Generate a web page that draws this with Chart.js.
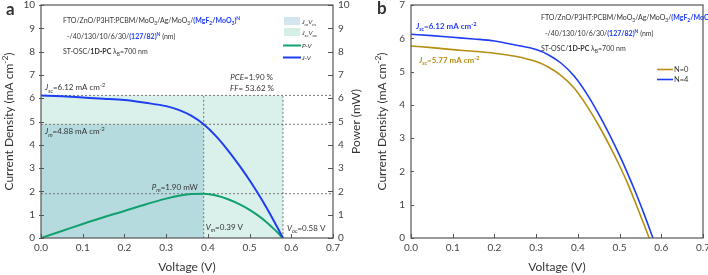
<!DOCTYPE html>
<html lang="en">
<head>
<meta charset="UTF-8" />
<title>J-V and P-V curves</title>
<script src="https://cdn.jsdelivr.net/npm/chart.js"></script>
<style>
  body { margin: 0; background: #fff; }
  #wrap { position: relative; width: 708px; height: 275px; }
  canvas { position: absolute; top: 0; }
</style>
</head>
<body>
<div id="wrap">
  <canvas id="chartA" width="370" height="275" style="left:0"></canvas>
  <canvas id="chartB" width="338" height="275" style="left:370px"></canvas>
</div>
<script>
// --- data ---
const voltage = [0, 0.05, 0.1, 0.15, 0.2, 0.25, 0.3, 0.33, 0.36, 0.39, 0.42, 0.45, 0.48, 0.5, 0.52, 0.54, 0.56, 0.58];
const currentN4 = [6.12, 6.08, 6.03, 5.98, 5.92, 5.80, 5.66, 5.50, 5.25, 4.88, 4.36, 3.72, 3.00, 2.48, 1.92, 1.32, 0.68, 0];
const powerN4 = [0, 0.30, 0.60, 0.89, 1.16, 1.44, 1.69, 1.81, 1.89, 1.90, 1.82, 1.65, 1.41, 1.21, 0.97, 0.69, 0.36, 0];
const voltageN0 = [0, 0.05, 0.1, 0.15, 0.2, 0.25, 0.3, 0.33, 0.36, 0.39, 0.42, 0.45, 0.48, 0.5, 0.52, 0.54, 0.56, 0.571];
const currentN0 = [5.77, 5.72, 5.66, 5.61, 5.55, 5.46, 5.30, 5.13, 4.88, 4.52, 4.00, 3.38, 2.68, 2.17, 1.62, 1.00, 0.36, 0];
const seriesNames = ['N=0', 'N=4'];

// key values (labels in panel a)
const jsc = 6.12, voc = 0.58, jm = 4.88, vm = 0.39, pm = 1.90;

const FONT = 'Lato';
const BLUE = '#1f3df2';
const GREEN = '#12a06e';
const GOLD = '#b58f12';
const AXIS = '#555';

function pts(xs, ys) { return xs.map((x, i) => ({ x: x, y: ys[i] })); }

// draws text made of segments with italic / bold / sub / sup pieces
function rich(ctx, x, y, segs, size, align) {
  const fontOf = s => (s.i ? 'italic ' : '') + (s.b ? 'bold ' : '') +
    ((s.sub || s.sup) ? size * 0.7 : size) + 'px ' + FONT;
  let w = 0;
  segs.forEach(s => { ctx.font = fontOf(s); w += ctx.measureText(s.t).width; });
  let cx = align === 'right' ? x - w : (align === 'center' ? x - w / 2 : x);
  ctx.save();
  ctx.textAlign = 'left';
  ctx.textBaseline = 'alphabetic';
  segs.forEach(s => {
    ctx.font = fontOf(s);
    ctx.fillStyle = s.c || '#333';
    const dy = s.sub ? size * 0.3 : (s.sup ? -size * 0.42 : 0);
    ctx.fillText(s.t, cx, y + dy);
    cx += ctx.measureText(s.t).width;
  });
  ctx.restore();
}

function stackText(ctx, x0, y0) {
  rich(ctx, x0, y0, [
    { t: 'FTO/ZnO/P3HT:PCBM/MoO' }, { t: '3', sub: 1 }, { t: '/Ag/MoO' }, { t: '3', sub: 1 }, { t: '/' },
    { t: '(MgF', b: 1, c: BLUE }, { t: '2', sub: 1, b: 1, c: BLUE }, { t: '/MoO', b: 1, c: BLUE },
    { t: '3', sub: 1, b: 1, c: BLUE }, { t: ')', b: 1, c: BLUE }, { t: 'N', sup: 1, b: 1, c: BLUE }
  ], 7);
  rich(ctx, x0 + 4, y0 + 16, [
    { t: '-/40/130/10/6/30/' }, { t: '(127/82)', b: 1, c: BLUE }, { t: 'N', sup: 1, b: 1, c: BLUE }, { t: ' (nm)' }
  ], 7);
  rich(ctx, x0, y0 + 31, [
    { t: 'ST-OSC/' }, { t: '1D-PC', b: 1 }, { t: ' λ' }, { t: 'B', sub: 1 }, { t: '=700 nm' }
  ], 7);
}

// frame, inward ticks
function frameTicks(ctx, ch, rightTicks, crossLeft) {
  const a = ch.chartArea, sx = ch.scales.x, sy = ch.scales.y;
  ctx.save();
  ctx.strokeStyle = AXIS;
  ctx.lineWidth = 1.2;
  ctx.strokeRect(a.left, a.top, a.right - a.left, a.bottom - a.top);
  ctx.lineWidth = 1;
  ctx.beginPath();
  sx.ticks.forEach(t => {
    const px = Math.round(sx.getPixelForValue(t.value)) + 0.5;
    ctx.moveTo(px, a.bottom); ctx.lineTo(px, a.bottom - 4);
  });
  sy.ticks.forEach(t => {
    const py = Math.round(sy.getPixelForValue(t.value)) + 0.5;
    ctx.moveTo(a.left - (crossLeft ? 2 : 0), py); ctx.lineTo(a.left + 3, py);
    if (rightTicks) { ctx.moveTo(a.right, py); ctx.lineTo(a.right - 5, py); }
  });
  ctx.stroke();
  ctx.restore();
}

function vTitle(ctx, x, y, segs, rot) {
  ctx.save();
  ctx.translate(x, y);
  ctx.rotate(rot);
  rich(ctx, 0, 4, segs, 12, 'center');
  ctx.restore();
}

const yTitle = [{ t: 'Current Density (mA cm' }, { t: '-2', sup: 1 }, { t: ')' }];

const xScale = {
  type: 'linear', min: 0, max: 0.7,
  grid: { display: false, drawTicks: false }, border: { display: false },
  ticks: { stepSize: 0.1, callback: v => v.toFixed(1), color: '#444', font: { family: FONT, size: 10 }, padding: 4 },
  afterFit: s => { s.height = 37; s.paddingLeft = 0; s.paddingRight = 0; }
};
function yScale(pos, max, w, top) {
  return {
    type: 'linear', position: pos, min: 0, max: max,
    grid: { display: false, drawTicks: false }, border: { display: false },
    ticks: { stepSize: 1, color: '#444', font: { family: FONT, size: 10 }, padding: pos === 'left' ? 6 : 5 },
    afterFit: s => { s.width = w; s.paddingTop = top; s.paddingBottom = 0; }
  };
}

function line(data, color, width, order, dash) {
  return {
    data: data, borderColor: color, borderWidth: width, pointRadius: 0, order: order,
    borderDash: dash || [], cubicInterpolationMode: 'monotone', fill: false
  };
}
function dotted(data) { return line(data, '#777', 1, 5, [2, 2]); }

// ---------- panel a ----------
const panelA = {
  id: 'panelA',
  afterDraw(ch) {
    const ctx = ch.ctx, a = ch.chartArea, sx = ch.scales.x, sy = ch.scales.y;
    frameTicks(ctx, ch, true, true);
    rich(ctx, 6, 15, [{ t: 'a', b: 1 }], 17);
    vTitle(ctx, 9, (a.top + a.bottom) / 2, yTitle, -Math.PI / 2);
    vTitle(ctx, 356, (a.top + a.bottom) / 2, [{ t: 'Power (mW)' }], -Math.PI / 2);
    rich(ctx, (a.left + a.right) / 2, 271, [{ t: 'Voltage (V)' }], 12, 'center');
    stackText(ctx, 63, 23);

    const x0 = sx.getPixelForValue(0) + 4;
    rich(ctx, x0, sy.getPixelForValue(jsc) - 5, [{ t: 'J', i: 1 }, { t: 'sc', i: 1, sub: 1 }, { t: '=6.12 mA cm' }, { t: '-2', sup: 1 }], 8);
    rich(ctx, x0, sy.getPixelForValue(jm) + 10, [{ t: 'J', i: 1 }, { t: 'm', i: 1, sub: 1 }, { t: '=4.88 mA cm' }, { t: '-2', sup: 1 }], 8);
    rich(ctx, 273, 80, [{ t: 'PCE', i: 1 }, { t: '=1.90 %' }], 8, 'right');
    rich(ctx, 274, 91, [{ t: 'FF', i: 1 }, { t: '= 53.62 %' }], 8, 'right');
    rich(ctx, sx.getPixelForValue(vm) - 6, sy.getPixelForValue(pm) - 4, [{ t: 'P', i: 1 }, { t: 'm', i: 1, sub: 1 }, { t: '=1.90 mW' }], 8, 'right');
    rich(ctx, sx.getPixelForValue(vm) + 2, 230, [{ t: 'V', i: 1 }, { t: 'm', i: 1, sub: 1 }, { t: '=0.39 V' }], 8);
    rich(ctx, sx.getPixelForValue(voc) + 4, 231, [{ t: 'V', i: 1 }, { t: 'oc', i: 1, sub: 1 }, { t: '=0.58 V' }], 8);

    // legend
    ctx.save();
    ctx.fillStyle = '#d3e5f0'; ctx.fillRect(284, 17, 16, 8);
    ctx.fillStyle = '#d6efe5'; ctx.fillRect(284, 28, 16, 8);
    ctx.lineWidth = 2;
    ctx.strokeStyle = GREEN; ctx.beginPath(); ctx.moveTo(283, 45.5); ctx.lineTo(301, 45.5); ctx.stroke();
    ctx.strokeStyle = BLUE; ctx.beginPath(); ctx.moveTo(283, 57.5); ctx.lineTo(301, 57.5); ctx.stroke();
    ctx.restore();
    rich(ctx, 302, 24, [{ t: 'J', i: 1 }, { t: 'm', i: 1, sub: 1 }, { t: 'V', i: 1 }, { t: 'm', i: 1, sub: 1 }], 6.5);
    rich(ctx, 302, 35, [{ t: 'J', i: 1 }, { t: 'sc', i: 1, sub: 1 }, { t: 'V', i: 1 }, { t: 'oc', i: 1, sub: 1 }], 6.5);
    rich(ctx, 302, 48, [{ t: 'P-V', i: 1 }], 6.5);
    rich(ctx, 302, 60, [{ t: 'J-V', i: 1 }], 6.5);
  }
};

new Chart(document.getElementById('chartA'), {
  type: 'line',
  data: {
    datasets: [
      line(pts(voltage, currentN4), BLUE, 2, 1),
      line(pts(voltage, powerN4), GREEN, 2, 1),
      dotted([{ x: 0, y: jsc }, { x: 0.7, y: jsc }]),
      dotted([{ x: 0, y: jm }, { x: 0.7, y: jm }]),
      dotted([{ x: 0, y: pm }, { x: 0.7, y: pm }]),
      dotted([{ x: vm, y: 0 }, { x: vm, y: jsc }]),
      dotted([{ x: voc, y: 0 }, { x: voc, y: jsc }]),
      { data: [{ x: 0, y: jm }, { x: vm, y: jm }], borderWidth: 0, pointRadius: 0, fill: 'origin', backgroundColor: '#b5dbde', order: 9 },
      { data: [{ x: 0, y: jsc }, { x: voc, y: jsc }], borderWidth: 0, pointRadius: 0, fill: 'origin', backgroundColor: '#d9f1ea', order: 10 }
    ]
  },
  options: {
    responsive: false, animation: false,
    layout: { padding: 0 },
    plugins: { legend: { display: false }, tooltip: { enabled: false } },
    scales: { x: xScale, y: yScale('left', 10, 41, 5), y2: yScale('right', 10, 37, 5) }
  },
  plugins: [panelA]
});

// ---------- panel b ----------
const panelB = {
  id: 'panelB',
  afterDraw(ch) {
    const ctx = ch.ctx, a = ch.chartArea;
    frameTicks(ctx, ch, false, false);
    rich(ctx, 7, 14, [{ t: 'b', b: 1 }], 17);
    vTitle(ctx, 12, (a.top + a.bottom) / 2, yTitle, -Math.PI / 2);
    rich(ctx, (a.left + a.right) / 2, 271, [{ t: 'Voltage (V)' }], 12, 'center');
    stackText(ctx, 171, 20);
    rich(ctx, 46, 29, [{ t: 'J', i: 1, b: 1, c: BLUE }, { t: 'sc', i: 1, b: 1, sub: 1, c: BLUE }, { t: '=6.12 mA cm', b: 1, c: BLUE }, { t: '-2', sup: 1, b: 1, c: BLUE }], 8);
    rich(ctx, 49, 63, [{ t: 'J', i: 1, b: 1, c: GOLD }, { t: 'sc', i: 1, b: 1, sub: 1, c: GOLD }, { t: '=5.77 mA cm', b: 1, c: GOLD }, { t: '-2', sup: 1, b: 1, c: GOLD }], 8);
    ctx.save();
    ctx.lineWidth = 1.6;
    ctx.strokeStyle = GOLD; ctx.beginPath(); ctx.moveTo(287, 69.5); ctx.lineTo(303, 69.5); ctx.stroke();
    ctx.strokeStyle = BLUE; ctx.beginPath(); ctx.moveTo(287, 79.5); ctx.lineTo(303, 79.5); ctx.stroke();
    ctx.restore();
    rich(ctx, 304, 72, [{ t: seriesNames[0] }], 7.5);
    rich(ctx, 304, 82, [{ t: seriesNames[1] }], 7.5);
  }
};

new Chart(document.getElementById('chartB'), {
  type: 'line',
  data: {
    datasets: [
      line(pts(voltage, currentN4), BLUE, 1.6, 1),
      line(pts(voltageN0, currentN0), GOLD, 1.6, 2)
    ]
  },
  options: {
    responsive: false, animation: false,
    layout: { padding: { top: 0, left: 0, right: 5, bottom: 0 } },
    plugins: { legend: { display: false }, tooltip: { enabled: false } },
    scales: { x: xScale, y: yScale('left', 7, 41, 5) }
  },
  plugins: [panelB]
});
</script>
</body>
</html>
